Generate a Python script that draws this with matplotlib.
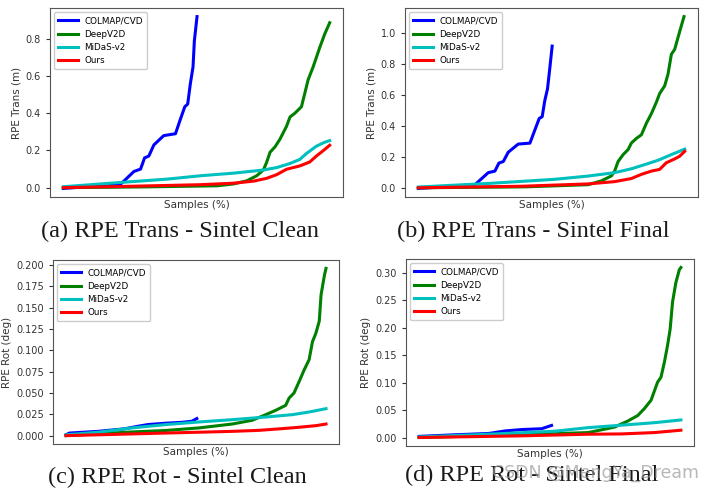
import numpy as np
import matplotlib
matplotlib.use('Agg')
import matplotlib.pyplot as plt

# curves (x = samples in %, y = error)
methods = ['COLMAP/CVD', 'DeepV2D', 'MiDaS-v2', 'Ours']
colors = ['b', 'g', 'c', 'r']

# (a) RPE Trans - Sintel Clean
a_colmap_x = [0, 7.8, 14.1, 21.5, 22.2, 26.5, 29.0, 30.5, 32.1, 34.0, 37.7, 42.1, 44.0, 45.6, 46.7, 47.7, 48.7, 49.2, 50.2]
a_colmap_y = [-0.004, 0.004, 0.012, 0.02, 0.028, 0.087, 0.10, 0.16, 0.17, 0.23, 0.28, 0.29, 0.37, 0.435, 0.45, 0.56, 0.65, 0.79, 0.92]
a_deep_x = [0, 30, 57.7, 63.9, 68.9, 72.6, 75.1, 76.3, 77.6, 79.5, 81.3, 83.8, 85.1, 86.9, 89.4, 90.7, 91.9, 93.8, 96.3, 98.1, 100]
a_deep_y = [0.0, 0.004, 0.01, 0.02, 0.037, 0.064, 0.095, 0.135, 0.19, 0.22, 0.26, 0.33, 0.38, 0.40, 0.435, 0.51, 0.58, 0.65, 0.755, 0.825, 0.887]
a_midas_x = [0, 21.5, 39.0, 51.4, 63.9, 75.1, 80.1, 85.1, 88.8, 91.3, 95.0, 98.1, 100]
a_midas_y = [0.005, 0.028, 0.046, 0.064, 0.078, 0.095, 0.108, 0.13, 0.152, 0.184, 0.223, 0.244, 0.253]
a_ours_x = [0, 26.5, 51.4, 63.9, 71.4, 76.3, 80.1, 83.8, 88.8, 92.5, 95.0, 98.1, 100]
a_ours_y = [0.0, 0.008, 0.016, 0.024, 0.035, 0.05, 0.07, 0.099, 0.117, 0.138, 0.17, 0.205, 0.228]

# (b) RPE Trans - Sintel Final
b_colmap_x = [0, 7.5, 13.75, 21.25, 21.9, 26.25, 28.75, 30.25, 31.9, 33.75, 37.5, 41.9, 43.75, 45.4, 46.5, 47.5, 48.5, 49.4, 50.25]
b_colmap_y = [-0.004, 0.004, 0.012, 0.02, 0.03, 0.098, 0.108, 0.16, 0.17, 0.23, 0.283, 0.289, 0.374, 0.449, 0.46, 0.566, 0.64, 0.78, 0.917]
b_deep_x = [0, 40, 63.75, 68.75, 72.5, 73.75, 75, 76.9, 78.75, 80, 81.9, 83.75, 85.6, 87.5, 89.4, 90.6, 92.5, 93.75, 95, 96.25, 98.1, 99.75]
b_deep_y = [0.0, 0.006, 0.02, 0.045, 0.077, 0.11, 0.17, 0.215, 0.247, 0.29, 0.32, 0.343, 0.417, 0.48, 0.555, 0.61, 0.66, 0.736, 0.864, 0.896, 1.01, 1.108]
b_midas_x = [0, 26.25, 51.25, 63.75, 73.75, 80, 85, 90, 95, 100]
b_midas_y = [0.005, 0.028, 0.055, 0.076, 0.098, 0.123, 0.15, 0.178, 0.215, 0.25]
b_ours_x = [0, 38.75, 63.75, 73.75, 80, 83.75, 87.5, 90.6, 93.1, 96.25, 98.1, 100]
b_ours_y = [0.0, 0.01, 0.025, 0.04, 0.06, 0.087, 0.108, 0.119, 0.162, 0.187, 0.204, 0.236]

# (c) RPE Rot - Sintel Clean
c_colmap_x = [0, 1.3, 12.3, 22.6, 27.7, 31.6, 38.1, 44.5, 48.4, 49.7, 50.3]
c_colmap_y = [0.001, 0.003, 0.005, 0.008, 0.011, 0.013, 0.0145, 0.0156, 0.0168, 0.019, 0.02]
c_deep_x = [0, 25.2, 38.1, 51.0, 63.9, 71.6, 76.8, 80.6, 84.5, 85.8, 87.7, 89.7, 91.6, 93.5, 94.8, 96.1, 97.4, 98.1, 99.4, 100]
c_deep_y = [0.0, 0.0043, 0.006, 0.009, 0.0136, 0.018, 0.0245, 0.0296, 0.0355, 0.044, 0.05, 0.0636, 0.077, 0.089, 0.11, 0.12, 0.134, 0.165, 0.188, 0.196]
c_midas_x = [0, 12.3, 25.2, 38.1, 51.0, 63.9, 76.8, 87.1, 93.5, 100]
c_midas_y = [0.001, 0.004, 0.009, 0.0129, 0.016, 0.0187, 0.0218, 0.0246, 0.0277, 0.0316]
c_ours_x = [0, 38.1, 63.9, 74.2, 83.2, 89.7, 96.1, 100]
c_ours_y = [0.0, 0.003, 0.005, 0.0062, 0.0082, 0.0098, 0.0117, 0.0136]

# (d) RPE Rot - Sintel Final
d_colmap_x = [0, 13.9, 26.6, 32.9, 39.2, 46.8, 48.7, 50.6]
d_colmap_y = [0.002, 0.005, 0.0073, 0.012, 0.0145, 0.016, 0.019, 0.022]
d_deep_x = [0, 39.2, 64.6, 74.7, 79.7, 83.5, 86.1, 88.6, 91.1, 92.4, 93.7, 94.9, 95.9, 96.8, 98.1, 99.4, 100]
d_deep_y = [0.0, 0.005, 0.009, 0.019, 0.03, 0.04, 0.053, 0.068, 0.101, 0.11, 0.1376, 0.168, 0.198, 0.247, 0.283, 0.306, 0.31]
d_midas_x = [0, 26.6, 51.9, 64.6, 77.2, 89.9, 100]
d_midas_y = [0.001, 0.006, 0.0115, 0.018, 0.0224, 0.027, 0.032]
d_ours_x = [0, 39.2, 64.6, 77.2, 89.9, 100]
d_ours_y = [0.0, 0.003, 0.006, 0.0065, 0.009, 0.0133]

panels = [
    ([a_colmap_x, a_deep_x, a_midas_x, a_ours_x], [a_colmap_y, a_deep_y, a_midas_y, a_ours_y],
     'RPE Trans (m)', '(a) RPE Trans - Sintel Clean', [50, 8, 343, 197], (180, 231)),
    ([b_colmap_x, b_deep_x, b_midas_x, b_ours_x], [b_colmap_y, b_deep_y, b_midas_y, b_ours_y],
     'RPE Trans (m)', '(b) RPE Trans - Sintel Final', [405, 8, 698, 197], (533, 231)),
    ([c_colmap_x, c_deep_x, c_midas_x, c_ours_x], [c_colmap_y, c_deep_y, c_midas_y, c_ours_y],
     'RPE Rot (deg)', '(c) RPE Rot - Sintel Clean', [53, 260, 339, 444], (177, 477)),
    ([d_colmap_x, d_deep_x, d_midas_x, d_ours_x], [d_colmap_y, d_deep_y, d_midas_y, d_ours_y],
     'RPE Rot (deg)', '(d) RPE Rot - Sintel Final', [406, 259, 694, 446], (532, 475)),
]

W, H = 711, 492
fig = plt.figure(figsize=(W/100, H/100), dpi=100)
fig.patch.set_facecolor('white')

for xs, ys, ylab, caption, box, cpos in panels:
    l, t, r, b = box
    ax = fig.add_axes([l/W, 1-b/H, (r-l)/W, (b-t)/H])
    for x, y, m, col in zip(xs, ys, methods, colors):
        ax.plot(x, y, color=col, lw=2.2, label=m)
    ax.set_xticks([])
    ax.tick_params(axis='y', labelsize=7, colors='#333333', length=3)
    ax.set_ylabel(ylab, fontsize=7.5, color='#333333', labelpad=3)
    ax.set_xlabel('Samples (%)', fontsize=7.5, color='#333333', labelpad=2)
    for s in ax.spines.values():
        s.set_color('#555555')
    ax.legend(loc='upper left', fontsize=6.3, framealpha=1, borderpad=0.45,
              labelspacing=0.5, handlelength=2.2)
    fig.text(cpos[0]/W, 1-cpos[1]/H, caption, ha='center', va='center',
             fontsize=17.5, family='Liberation Serif', color='#1a1a1a')

fig.text(595/W, 1-473/H, 'CSDN @MengYa_Dream', ha='center', va='center',
         fontsize=12.5, color='#9a9a9a', alpha=0.7)

fig.savefig('out.png', dpi=100)
